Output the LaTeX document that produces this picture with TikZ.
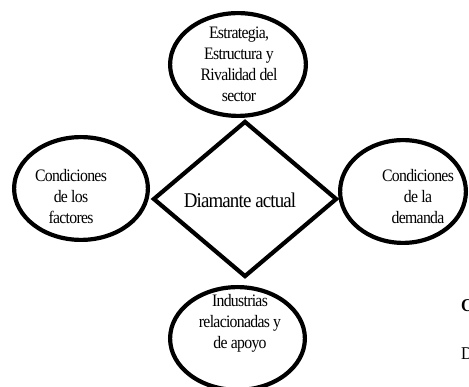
\documentclass[tikz,border=0pt]{standalone}
\usepackage{fontspec}
\setmainfont{Liberation Serif}[FakeStretch=0.9, LetterSpace=-4]
\usetikzlibrary{shapes.geometric}

\tikzset{
  bubble/.style={shape=ellipse, draw, line width=4.2pt,
    minimum height=102.8pt, inner sep=0pt},
  bubbletext/.style={align=center, inner sep=0pt,
    font=\fontsize{17.5}{21}\selectfont},
  fragment/.style={anchor=west, inner sep=0pt,
    font=\fontsize{18}{21}\selectfont}
}

\begin{document}
\begin{tikzpicture}[x=1pt, y=-1pt]
    \path [use as bounding box] (0,0) rectangle (469,387);

    \node[name=diamante,
      shape=diamond,
      draw,
      line width=4.2pt,
      minimum width=184pt,
      minimum height=156pt,
      inner sep=0pt] at (245,199) {};

    \node[name=estrategia, bubble, minimum width=135.8pt] at (238,64.5) {};
    \node[name=factores, bubble, minimum width=133.8pt] at (81,188.5) {};
    \node[name=demanda, bubble, minimum width=125.8pt] at (403,191.5) {};
    \node[name=industrias, bubble, minimum width=134.8pt] at (237.5,338.5) {};

    % textos
    \node[name=estrategiatxt, bubbletext] at (239,64)
      {Estrategia,\\Estructura y\\Rivalidad del\\sector};
    \node[name=factorestxt, bubbletext] at (71,196.5)
      {Condiciones\\de los\\factores};
    \node[name=demandatxt, bubbletext] at (418,196.5)
      {Condiciones\\de la\\demanda};
    \node[name=industriastxt, bubbletext] at (240,323.5)
      {Industrias\\relacionadas y\\de apoyo};
    \node[name=diamantetxt, inner sep=0pt,
      font=\fontsize{21}{25}\selectfont] at (240,200) {Diamante actual};

    % restos del texto de la pagina
    \node[name=restoc, fragment] at (461,306) {\bfseries C};
    \node[name=restod, fragment] at (461,354) {D};
  \end{tikzpicture}
\end{document}
